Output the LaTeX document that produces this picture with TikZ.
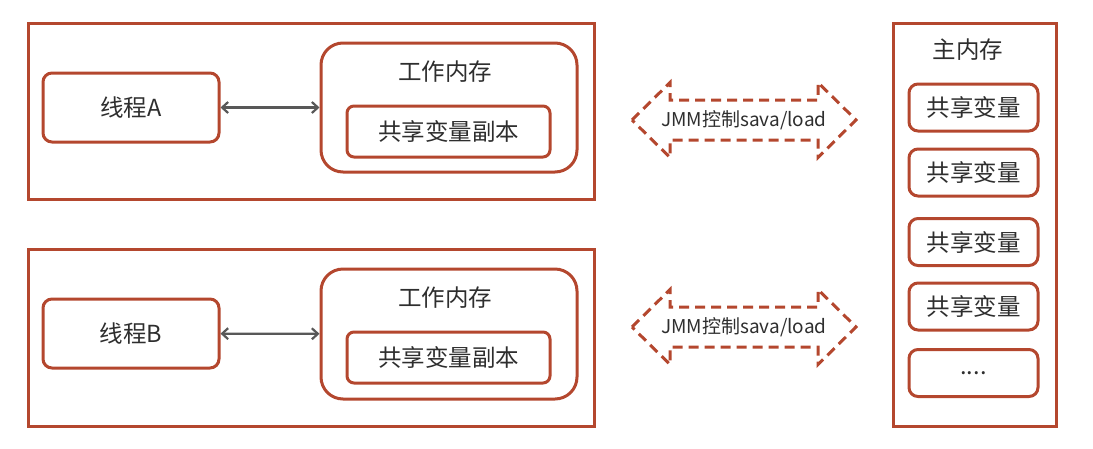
\documentclass[tikz,border=0pt]{standalone}
\usepackage{fontspec}
\setmainfont{Noto Sans CJK SC}
\usepackage{tikz}
\usetikzlibrary{
	arrows.meta,
	calc,
	positioning
}
\definecolor{brick}{HTML}{B4472E}
\definecolor{ink}{HTML}{2E2E2E}

\begin{document}
\begin{tikzpicture}[x=1pt, y=-1pt,
		frame/.style={draw=brick, line width=3pt, minimum width=#1},
		rbox/.style={draw=brick, line width=3pt, rounded corners=9pt, text=ink, font=\fontsize{23.5}{26}\selectfont},
		lbl/.style={text=ink, font=\fontsize{23.5}{26}\selectfont},
		link/.style={{Straight Barb[length=6pt,width=11pt]}-{Straight Barb[length=6pt,width=11pt]}, draw=ink!80, line width=2.2pt},
		jmm/.style={draw=brick, line width=3pt, dash pattern=on 10pt off 6pt, line join=miter}
	]
		\useasboundingbox (0,0) rectangle (1093,448);
		% thread A
		\node[frame=566, minimum height=176] (outerA) at (311,111) {};
		\node[rbox, minimum width=176, minimum height=69] (threadA) at (131,107.5) {线程A};
		\node[rbox, rounded corners=22pt, minimum width=256, minimum height=129] (workA) at (449,107.5) {};
		\node[lbl] (workAlbl) at (445,72) {工作内存};
		\node[rbox, rounded corners=7pt, minimum width=203, minimum height=51] (copyA) at (448.5,131.5) {共享变量副本};
		\draw[link] (threadA) -- (workA);
		% thread B
		\node[frame=566, minimum height=177] (outerB) at (311,337.5) {};
		\node[rbox, minimum width=176, minimum height=69] (threadB) at (131,333.5) {线程B};
		\node[rbox, rounded corners=22pt, minimum width=256, minimum height=130] (workB) at (449,334) {};
		\node[lbl] (workBlbl) at (445,298) {工作内存};
		\node[rbox, rounded corners=7pt, minimum width=203, minimum height=51] (copyB) at (448.5,357.5) {共享变量副本};
		\draw[link] (threadB) -- (workB);
		% main memory
		\node[frame=163, minimum height=403] (mainmem) at (974.5,224.5) {};
		\node[lbl] (mainlbl) at (968,50) {主内存};
		\foreach \name/\y in {varA/107.5, varB/172.5, varC/242, varD/306.5}
			\node[rbox, minimum width=129, minimum height=47] (\name) at (973.5,\y) {共享变量};
		\node[rbox, minimum width=129, minimum height=47] (varE) at (973.5,373) {....};
		% JMM arrows
		\foreach \name/\y in {jmmA/120, jmmB/327} {
			\node[text=ink, font=\fontsize{19}{22}\selectfont] (\name) at (744,\y) {JMM控制sava/load};
			\draw[jmm] ($(\name)+(-112,0)$) -- ($(\name)+(-74,-37.5)$) -- ($(\name)+(-74,-20)$)
				-- ($(\name)+(74,-20)$) -- ($(\name)+(74,-37.5)$) -- ($(\name)+(112,0)$)
				-- ($(\name)+(74,37.5)$) -- ($(\name)+(74,20)$) -- ($(\name)+(-74,20)$)
				-- ($(\name)+(-74,37.5)$) -- cycle;
		}
	\end{tikzpicture}
\end{document}
